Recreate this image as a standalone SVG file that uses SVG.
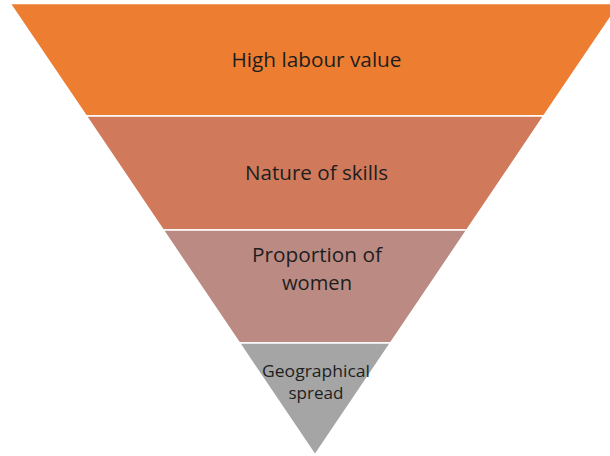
<svg xmlns="http://www.w3.org/2000/svg" width="610" height="456" viewBox="0 0 610 456">
  <style>
    .band { stroke: #ffffff; stroke-width: 1.6; stroke-linejoin: miter; }
    .lbl { font-family: "Open Sans", "Liberation Sans", sans-serif; fill: #1e1e1e; text-anchor: middle; }
    .big { font-size: 20px; }
    .small { font-size: 16px; }
  </style>
  <rect width="610" height="456" fill="#ffffff"/>

  <!-- inverted pyramid, widest tier on top -->
  <g id="tier-high-labour-value">
    <polygon class="band" fill="#ED7D31" points="10,3.5 620,3.5 543.8,116 86.2,116"/>
    <text class="lbl big" x="316.5" y="67" textLength="170" lengthAdjust="spacingAndGlyphs">High labour value</text>
  </g>

  <g id="tier-nature-of-skills">
    <polygon class="band" fill="#D07A5B" points="86.2,116 543.8,116 466.9,230 163.1,230"/>
    <text class="lbl big" x="316.5" y="180" textLength="143" lengthAdjust="spacingAndGlyphs">Nature of skills</text>
  </g>

  <g id="tier-proportion-of-women">
    <polygon class="band" fill="#BB8B83" points="163.1,230 466.9,230 390.6,343 239.4,343"/>
    <text class="lbl big" x="317" y="262" textLength="130" lengthAdjust="spacingAndGlyphs">Proportion of</text>
    <text class="lbl big" x="317" y="290" textLength="70" lengthAdjust="spacingAndGlyphs">women</text>
  </g>

  <g id="tier-geographical-spread">
    <polygon class="band" fill="#A5A5A5" points="239.4,343 390.6,343 315,455"/>
    <text class="lbl small" x="316" y="377" textLength="108" lengthAdjust="spacingAndGlyphs">Geographical</text>
    <text class="lbl small" x="316" y="399" textLength="55" lengthAdjust="spacingAndGlyphs">spread</text>
  </g>

  <g id="connectors"></g>
</svg>
